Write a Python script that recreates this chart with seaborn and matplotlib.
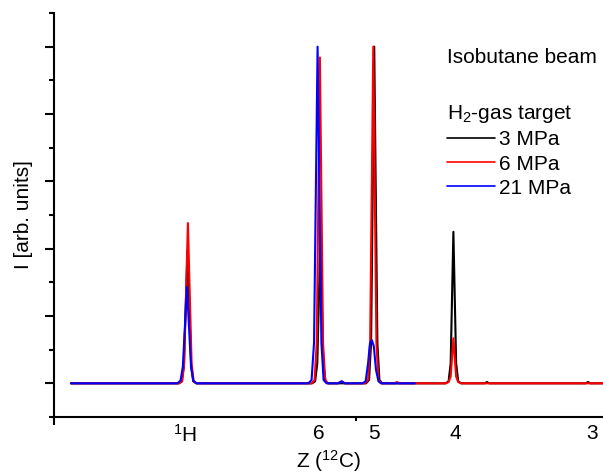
import numpy as np
import pandas as pd
import matplotlib
matplotlib.use("Agg")
import matplotlib.pyplot as plt
import seaborn as sns

# spectra: x in A/Q units, y in arbitrary units
x_3mpa = [0.183, 0.974, 0.995, 1.010, 1.037, 1.064, 1.079, 1.100,
          1.950, 1.972, 1.988, 2.010, 2.032, 2.048, 2.068,
          2.345, 2.367, 2.382, 2.405, 2.428, 2.443, 2.463,
          2.928, 2.950, 2.965, 2.985, 3.005, 3.020, 3.042,
          3.215, 3.231, 3.247, 3.955, 3.971, 3.987, 4.205]
y_3mpa = [0, 0, 0.03, 0.25, 1.98, 0.25, 0.03, 0,
          0, 0.03, 0.30, 2.10, 0.30, 0.03, 0,
          0, 0.05, 0.60, 5.00, 0.60, 0.05, 0,
          0, 0.03, 0.30, 2.25, 0.30, 0.03, 0,
          0, 0.02, 0, 0, 0.02, 0, 0]

x_6mpa = [0.183, 0.977, 0.998, 1.013, 1.040, 1.067, 1.082, 1.103,
          1.946, 1.968, 1.984, 2.007, 2.030, 2.046, 2.066,
          2.139, 2.166, 2.190,
          2.338, 2.360, 2.375, 2.398, 2.421, 2.436, 2.458,
          2.555, 2.571, 2.587,
          2.928, 2.950, 2.965, 2.985, 3.005, 3.020, 3.042, 4.205]
y_6mpa = [0, 0, 0.03, 0.30, 2.38, 0.30, 0.03, 0,
          0, 0.05, 0.60, 4.84, 0.60, 0.05, 0,
          0, 0.03, 0,
          0, 0.05, 0.60, 5.00, 0.60, 0.05, 0,
          0, 0.02, 0,
          0, 0.02, 0.10, 0.67, 0.10, 0.02, 0, 0]

x_21mpa = [0.183, 0.962, 0.986, 1.003, 1.033, 1.063, 1.080, 1.104,
           1.922, 1.946, 1.964, 1.990, 2.018, 2.034, 2.056,
           2.139, 2.166, 2.190,
           2.318, 2.342, 2.360, 2.374, 2.388, 2.402, 2.418, 2.436, 2.455, 2.703]
y_21mpa = [0, 0, 0.04, 0.25, 1.43, 0.25, 0.04, 0,
           0, 0.05, 0.60, 5.00, 0.60, 0.05, 0,
           0, 0.03, 0,
           0, 0.03, 0.30, 0.60, 0.64, 0.55, 0.20, 0.03, 0, 0]

series = ["3 MPa", "6 MPa", "21 MPa"]
colors = ["black", "red", "blue"]
z_pos = [1.018, 2.0, 2.4, 3.0, 4.0]
z_labels = ["$^1$H", "6", "5", "4", "3"]

df = pd.concat([
    pd.DataFrame({"x": x_3mpa, "y": y_3mpa, "p": series[0]}),
    pd.DataFrame({"x": x_6mpa, "y": y_6mpa, "p": series[1]}),
    pd.DataFrame({"x": x_21mpa, "y": y_21mpa, "p": series[2]}),
], ignore_index=True)

sns.set_theme(style="ticks")
plt.rcParams["font.family"] = ["Liberation Sans", "DejaVu Sans"]
plt.rcParams["mathtext.fontset"] = "custom"
plt.rcParams["mathtext.rm"] = "Liberation Sans"
plt.rcParams["mathtext.default"] = "regular"
plt.rcParams["text.color"] = "black"
plt.rcParams["axes.labelcolor"] = "black"
plt.rcParams["legend.labelcolor"] = "black"

fig = plt.figure(figsize=(6.03, 4.75), dpi=100)
ax = fig.add_axes([54 / 603, 58 / 475, 549 / 603, 404 / 475])

sns.lineplot(data=df, x="x", y="y", hue="p", hue_order=series,
             palette=colors, estimator=None, sort=False, linewidth=1.5, ax=ax)

ax.set_xlim(0.059, 4.081)
ax.set_ylim(-0.5, 5.5)
for s in ["top", "right"]:
    ax.spines[s].set_visible(False)
for s in ["left", "bottom"]:
    ax.spines[s].set_linewidth(1.5)
    ax.spines[s].set_color("black")

ax.set_yticks(np.arange(0, 6, 1))
ax.set_yticks(np.arange(-0.5, 6, 1), minor=True)
ax.set_yticklabels([])
ax.tick_params(axis="y", which="major", direction="out", length=6.5, width=1.5, color="black")
ax.tick_params(axis="y", which="minor", direction="out", length=3.5, width=1.5, color="black")

ax.set_xticks(z_pos)
ax.set_xticklabels(z_labels)
ax.set_xticks([0.059, 2.271], minor=True)
ax.tick_params(axis="x", which="major", length=0, pad=5, labelsize=15, labelcolor="black")
ax.tick_params(axis="x", which="minor", direction="out", length=3, width=1.5, color="black")
ax.xaxis.get_minor_ticks()[0].tick1line.set_markersize(6)

ax.set_xlabel("Z ($^{12}$C)", fontsize=15, labelpad=1.5, color="black")
ax.set_ylabel("I [arb. units]", fontsize=15, labelpad=5, color="black")

ax.text(0.716, 0.891, "Isobutane beam", transform=ax.transAxes,
        fontsize=15, va="center", ha="left", color="black")
leg = ax.legend(title="H$_2$-gas target", loc="upper left",
                bbox_to_anchor=(0.716, 0.777), frameon=False, fontsize=15,
                title_fontsize=15, handlelength=2.3, handletextpad=0.2,
                labelspacing=0.25, borderpad=0, borderaxespad=0,
                alignment="left")
leg.get_title().set_color("black")
for line in leg.get_lines():
    line.set_linewidth(1.2)

fig.savefig("out.png", dpi=100)
